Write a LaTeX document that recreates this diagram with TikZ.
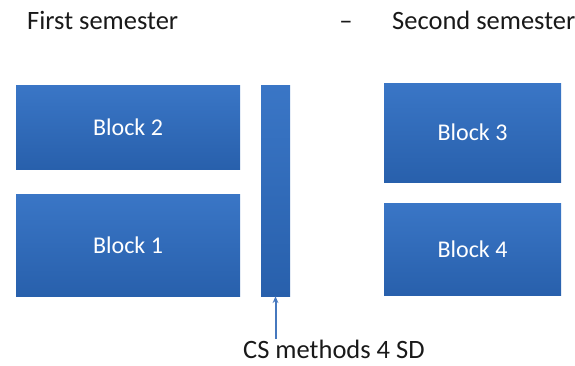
\documentclass[tikz,border=0pt]{standalone}
\usepackage{fontspec}
\setmainfont{Carlito}
\usepackage{tikz}
\usetikzlibrary{arrows.meta,positioning}
\definecolor{blocktop}{RGB}{58,118,198}
\definecolor{blockbot}{RGB}{40,96,172}
\definecolor{arrowblue}{RGB}{70,120,190}
\tikzset{
  blockbox/.style = {rectangle, draw=none, top color=blocktop, bottom color=blockbot,
                     inner sep=0pt, text=white, font=\fontsize{24}{28}\selectfont},
  semlabel/.style = {inner sep=0pt, anchor=base west, text=black!90,
                     font=\fontsize{26.5}{31}\selectfont},
  arrowline/.style = {-{Stealth[length=2.4mm,width=2mm]}, arrowblue, line width=2pt}
}
\begin{document}
\begin{tikzpicture}[x=1pt,y=-1pt]
  \useasboundingbox (0,0) rectangle (575,365);
  % semester headings
  \node[semlabel] (first) at (27,29) {First semester};
  \node[semlabel, anchor=base] (dash) at (346,29) {--};
  \node[semlabel] (second) at (392,29) {Second semester};
  % first semester blocks
  \node[blockbox, minimum width=224pt, minimum height=84pt] (b2) at (128,127) {Block 2};
  \node[blockbox, minimum width=224pt, minimum height=102pt] (b1) at (128,245) {Block 1};
  \node[blockbox, minimum width=29pt, minimum height=211pt] (bar) at (275.5,190.5) {};
  % second semester blocks
  \node[blockbox, minimum width=177pt, minimum height=99pt] (b3) at (472.5,132.5) {Block 3};
  \node[blockbox, minimum width=177pt, minimum height=92pt] (b4) at (472.5,249) {Block 4};
  % the bar's label
  \node[semlabel] (cs) at (243,358) {CS methods 4 SD};
  \coordinate (tail) at (bar.south |- 0,339);
  \draw[arrowline] (tail) -- (bar.south);
\end{tikzpicture}
\end{document}
